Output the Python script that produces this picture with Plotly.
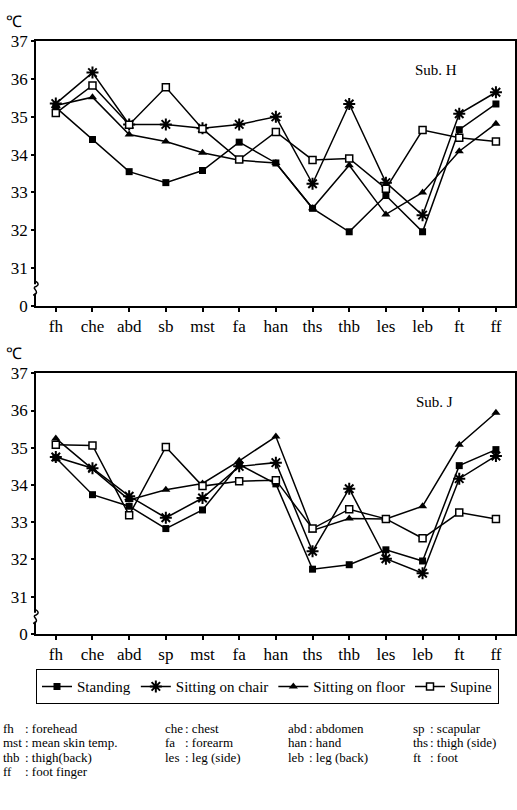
import plotly.graph_objects as go

# ---------------- data ----------------
cats_H = ["fh", "che", "abd", "sb", "mst", "fa", "han", "ths", "thb", "les", "leb", "ft", "ff"]
standing_H = [35.25, 34.40, 33.55, 33.26, 33.58, 34.33, 33.78, 32.58, 31.96, 32.92, 31.96, 34.66, 35.34]
chair_H    = [35.35, 36.17, 34.80, 34.80, 34.70, 34.80, 35.00, 33.23, 35.34, 33.26, 32.40, 35.08, 35.65]
floor_H    = [35.30, 35.52, 34.53, 34.35, 34.05, 33.85, 33.78, 32.58, 33.72, 32.42, 33.00, 34.09, 34.82]
supine_H   = [35.10, 35.83, 34.79, 35.78, 34.68, 33.87, 34.60, 33.86, 33.90, 33.10, 34.65, 34.45, 34.35]

cats_J = ["fh", "che", "abd", "sp", "mst", "fa", "han", "ths", "thb", "les", "leb", "ft", "ff"]
standing_J = [34.73, 33.74, 33.43, 32.83, 33.33, 34.55, 34.03, 31.74, 31.86, 32.26, 31.96, 34.52, 34.95]
chair_J    = [34.75, 34.45, 33.70, 33.12, 33.65, 34.50, 34.60, 32.22, 33.90, 32.02, 31.63, 34.17, 34.78]
floor_J    = [35.25, 34.43, 33.60, 33.87, 34.04, 34.65, 35.30, 32.78, 33.10, 33.09, 33.43, 35.08, 35.94]
supine_J   = [35.08, 35.06, 33.19, 35.02, 33.97, 34.10, 34.13, 32.83, 33.35, 33.09, 32.57, 33.26, 33.09]

series_names = ["Standing", "Sitting on chair", "Sitting on floor", "Supine"]

y_tickvals = [30, 31, 32, 33, 34, 35, 36, 37]
y_ticktext = ["0", "31", "32", "33", "34", "35", "36", "37"]

abbrev_rows = [
    [("fh", "forehead"), ("che", "chest"), ("abd", "abdomen"), ("sp", "scapular")],
    [("mst", "mean skin temp."), ("fa", "forearm"), ("han", "hand"), ("ths", "thigh (side)")],
    [("thb", "thigh(back)"), ("les", "leg (side)"), ("leb", "leg (back)"), ("ft", "foot")],
    [("ff", "foot finger")],
]

# ---------------- layout helpers ----------------
W, H = 517, 810
ML, MR = 36, 1
PW = W - ML - MR
FONT = "Liberation Serif"


def px_x(x):
    return (x - ML) / PW


def px_y(y):
    return 1 - y / H


marker_styles = [
    dict(symbol="square", size=7, color="black", line=dict(color="black", width=0)),
    dict(symbol="asterisk-open", size=10, color="black", line=dict(color="black", width=2)),
    dict(symbol="triangle-up", size=8, color="black", line=dict(color="black", width=0)),
    dict(symbol="square", size=7, color="white", line=dict(color="black", width=1.5)),
]

fig = go.Figure()

top_vals = [standing_H, chair_H, floor_H, supine_H]
bot_vals = [standing_J, chair_J, floor_J, supine_J]

for name, vals, ms in zip(series_names, top_vals, marker_styles):
    fig.add_trace(go.Scatter(x=cats_H, y=vals, name=name, mode="lines+markers",
                             line=dict(color="black", width=1.5), marker=ms,
                             xaxis="x", yaxis="y", showlegend=True, cliponaxis=False))
for name, vals, ms in zip(series_names, bot_vals, marker_styles):
    fig.add_trace(go.Scatter(x=cats_J, y=vals, name=name, mode="lines+markers",
                             line=dict(color="black", width=1.5), marker=ms,
                             xaxis="x2", yaxis="y2", showlegend=False, cliponaxis=False))

xax = dict(type="category", range=[-0.54, 12.52], showline=True, linecolor="black",
           linewidth=1.5, mirror=True, ticks="outside", ticklen=4, tickwidth=1.5,
           tickcolor="black", showgrid=False, zeroline=False,
           tickfont=dict(family=FONT, size=17, color="black"))
yax = dict(range=[30, 37], tickvals=y_tickvals, ticktext=y_ticktext, showline=True,
           linecolor="black", linewidth=1.5, mirror=True, ticks="outside", ticklen=3,
           tickwidth=1.5, tickcolor="black", showgrid=False, zeroline=False,
           tickfont=dict(family=FONT, size=17, color="black"))

top_dom = [px_y(304), px_y(33)]
bot_dom = [px_y(640), px_y(373)]

fig.update_layout(
    width=W, height=H,
    margin=dict(l=ML, r=MR, t=0, b=0),
    paper_bgcolor="white", plot_bgcolor="white",
    font=dict(family=FONT, color="black"),
    xaxis=dict(xax, domain=[0, 1], anchor="y"),
    yaxis=dict(yax, domain=top_dom, anchor="x"),
    xaxis2=dict(xax, domain=[0, 1], anchor="y2"),
    yaxis2=dict(yax, domain=bot_dom, anchor="x2"),
    legend=dict(orientation="h", x=px_x(36), xanchor="left", y=px_y(676), yanchor="top",
                bordercolor="black", borderwidth=1, bgcolor="white",
                font=dict(family=FONT, size=15, color="black"),
                itemwidth=30, traceorder="normal"),
    showlegend=True,
)

# axis breaks
shapes = []
for yref, yb in (("y", 30.45), ("y2", 30.45)):
    shapes.append(dict(type="rect", xref="paper", yref=yref, x0=-0.006, x1=0.006,
                       y0=yb - 0.12, y1=yb + 0.12, fillcolor="white", line=dict(width=0),
                       layer="above"))
    shapes.append(dict(type="path", xref="paper", yref=yref,
                       path=f"M -0.006,{yb - 0.17} C 0.012,{yb - 0.08} -0.012,{yb + 0.02} 0.0,{yb + 0.06} "
                            f"C 0.006,{yb + 0.1} 0.006,{yb + 0.14} 0.0,{yb + 0.2}",
                       line=dict(color="black", width=1.5), layer="above"))

annotations = []
for ypx in (13, 353):
    annotations.append(dict(text="℃", x=px_x(14), y=px_y(ypx), xref="paper", yref="paper",
                            xanchor="center", yanchor="middle",
                            showarrow=False, font=dict(family=FONT, size=16, color="black")))
annotations.append(dict(text="Sub. H", x=px_x(437), y=px_y(62), xref="paper", yref="paper",
                        xanchor="center", yanchor="middle",
                        showarrow=False, font=dict(family=FONT, size=15, color="black")))
annotations.append(dict(text="Sub. J", x=px_x(435), y=px_y(402), xref="paper", yref="paper",
                        xanchor="center", yanchor="middle",
                        showarrow=False, font=dict(family=FONT, size=15, color="black")))

col_abbr_x = [2, 164, 288, 413]
col_colon_x = [24, 184, 309, 430]
row_y = [737, 751.5, 766, 780.5]
for r, row in enumerate(abbrev_rows):
    for c, (ab, desc) in enumerate(row):
        annotations.append(dict(text=ab, x=px_x(col_abbr_x[c]), y=px_y(row_y[r]), xref="paper",
                                yref="paper", xanchor="left", yanchor="middle", showarrow=False,
                                borderpad=0,
                                font=dict(family=FONT, size=13, color="black")))
        annotations.append(dict(text=": " + desc, x=px_x(col_colon_x[c]), y=px_y(row_y[r]),
                                xref="paper", yref="paper", xanchor="left", yanchor="middle",
                                borderpad=0,
                                showarrow=False, font=dict(family=FONT, size=13, color="black")))

fig.update_layout(shapes=shapes, annotations=annotations)

fig.write_html("out.html", config={"displayModeBar": False},
               post_script="document.body.style.margin='0px';document.body.style.overflow='hidden';")
